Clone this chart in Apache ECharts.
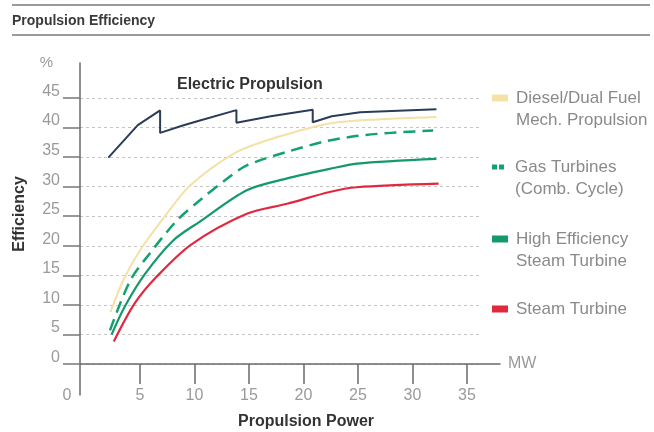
<!DOCTYPE html>
<html>
<head>
<meta charset="utf-8">
<script src="https://cdn.jsdelivr.net/npm/echarts@6/dist/echarts.min.js"></script>
<style>html,body{margin:0;padding:0;background:#fff;}#c{width:654px;height:432px;}</style>
</head>
<body>
<div id="c"></div>
<script>
// ---- data ----
const xTickValues = [5, 10, 15, 20, 25, 30, 35];
const xLabelValues = [0, 5, 10, 15, 20, 25, 30, 35];
const seriesNames = ['Diesel/Dual Fuel Mech. Propulsion', 'Gas Turbines (Comb. Cycle)', 'High Efficiency Steam Turbine', 'Steam Turbine'];
const legendLabels = ['Diesel/Dual Fuel\nMech. Propulsion', 'Gas Turbines\n(Comb. Cycle)', 'High Efficiency\nSteam Turbine', 'Steam Turbine'];

const electricX = [2.1, 4.8, 6.85, 6.85, 9.0, 10.5, 13.85, 13.85, 17.0, 20.85, 20.85, 22.6, 25.2, 32.2];
const electricY = [34.9, 40.4, 42.9, 39.1, 40.4, 41.2, 42.95, 40.8, 41.9, 43.0, 40.9, 41.9, 42.6, 43.1];

const dieselX = [2.3, 3.5, 5.0, 7.45, 9.6, 13.6, 16.6, 20.3, 22.4, 26.0, 32.2];
const dieselY = [8.8, 14.3, 19.2, 25.4, 30.2, 35.6, 37.8, 39.8, 40.7, 41.3, 41.8];

const gasX = [2.25, 4.1, 5.9, 8.4, 10.5, 12.95, 14.8, 18.5, 22.1, 25.0, 28.0, 31.9];
const gasY = [5.7, 14.1, 18.7, 24.3, 27.7, 31.3, 33.6, 35.9, 37.7, 38.6, 39.1, 39.5];

const heSteamX = [2.4, 3.6, 5.45, 8.05, 10.5, 14.8, 18.5, 22.4, 24.9, 32.2];
const heSteamY = [5.0, 9.7, 15.2, 20.9, 24.1, 29.4, 31.4, 33.0, 33.9, 34.7];

const steamX = [2.6, 4.5, 6.5, 9.7, 14.8, 18.5, 22.4, 24.9, 32.4];
const steamY = [3.8, 10.2, 14.7, 20.2, 25.4, 27.1, 29.1, 29.9, 30.5];

// ---- chart ----
const F = 'Liberation Sans, Arial, Helvetica, sans-serif';
const zip = (xs, ys) => xs.map((x, i) => [x, ys[i]]);
const colors = ['#f4e1a6', '#12a36c', '#14996a', '#e2283f'];

const chart = echarts.init(document.getElementById('c'), null, {renderer: 'canvas'});

function mkLegend(i, top, icon, w, h, gap) {
  const lines = legendLabels[i].split('\n');
  const txt = lines.length > 1
    ? ['{a| }'].concat(lines.map(l => '{s|}{a|' + l + '}')).join('\n')
    : '{s|}{a|' + lines[0] + '}';
  return {
    data: [seriesNames[i]], left: 492, top: top, orient: 'vertical', padding: 0,
    icon: icon, itemWidth: w, itemHeight: h, selectedMode: false,
    formatter: () => txt,
    textStyle: {fontFamily: F, fontSize: 17, color: '#8a8a8a', lineHeight: 22,
      rich: {
        a: {fontFamily: F, fontSize: 17, color: '#8a8a8a', lineHeight: 22},
        s: {width: gap, lineHeight: 22}
      }}
  };
}

const option = {
  animation: false,
  backgroundColor: '#fff',
  title: [
    {text: 'Propulsion Efficiency', left: 12, top: 14, padding: 0,
     textStyle: {fontFamily: F, fontSize: 14, fontWeight: 'bold', color: '#3a3a3a'}},
    {text: 'Electric Propulsion', left: 177, top: 77, padding: 0,
     textStyle: {fontFamily: F, fontSize: 16, fontWeight: 'bold', color: '#333'}},
    {text: 'Propulsion Power', left: 306, textAlign: 'center', top: 414, padding: 0,
     textStyle: {fontFamily: F, fontSize: 16, fontWeight: 'bold', color: '#333'}}
  ],
  graphic: [
    {type: 'line', shape: {x1: 12, y1: 5, x2: 650, y2: 5}, style: {stroke: '#9a9a9a', lineWidth: 2}},
    {type: 'line', shape: {x1: 12, y1: 35, x2: 650, y2: 35}, style: {stroke: '#9a9a9a', lineWidth: 2}},
    {type: 'text', x: 20, y: 214, rotation: Math.PI / 2,
     style: {text: 'Efficiency', align: 'center', verticalAlign: 'middle', font: 'bold 16px ' + F, fill: '#333'}}
  ],
  legend: [
    mkLegend(0, 65, 'rect', 16, 7, 3),
    mkLegend(1, 134, 'path://M0,0H5V5H0Z M7,0H12V5H7Z', 12, 5, 6),
    mkLegend(2, 206, 'rect', 16, 7, 3),
    mkLegend(3, 298, 'rect', 16, 7, 3)
  ],
  grid: [
    {left: 80, right: 172, top: 98, bottom: 68},
    {left: 80, right: 154, top: 63, bottom: 37}
  ],
  xAxis: [
    {type: 'value', gridIndex: 0, min: -0.5, max: 36.38, show: false},
    {type: 'value', gridIndex: 1, min: -0.5, max: 38.03,
     axisLine: {show: true, onZero: true, lineStyle: {color: '#6a6a6a', width: 1.5}},
     axisTick: {show: true, customValues: xTickValues, length: 20, inside: false, lineStyle: {color: '#6a6a6a', width: 1.5}},
     axisLabel: {customValues: xLabelValues, margin: -7, fontFamily: F, fontSize: 16, color: '#9a9a9a',
       formatter: v => v === 0 ? '{z|0}' : String(v),
       rich: {z: {fontFamily: F, fontSize: 16, color: '#9a9a9a', padding: [0, 37, 0, 0]}}},
     splitLine: {show: false},
     name: 'MW', nameLocation: 'end', nameGap: 8,
     nameTextStyle: {fontFamily: F, fontSize: 16, color: '#9a9a9a', verticalAlign: 'middle'}}
  ],
  yAxis: [
    {type: 'value', gridIndex: 0, min: 0, max: 45, interval: 5,
     axisLine: {show: false, onZero: false},
     axisTick: {show: true, length: 17, inside: false, lineStyle: {color: '#777', width: 1.5}},
     axisLabel: {margin: 20, fontFamily: F, fontSize: 16, color: '#9a9a9a', verticalAlign: 'bottom', lineHeight: 13},
     splitLine: {show: true, lineStyle: {color: '#c4c4c4', type: [3, 3], width: 1}}},
    {type: 'value', gridIndex: 1, min: -5.24, max: 50.92,
     axisLine: {show: true, onZero: false, lineStyle: {color: '#6a6a6a', width: 1.5}},
     axisTick: {show: false}, axisLabel: {show: false}, splitLine: {show: false},
     name: '%', nameLocation: 'end', nameGap: 0,
     nameTextStyle: {fontFamily: F, fontSize: 15, color: '#9a9a9a', align: 'right', verticalAlign: 'middle', padding: [0, 27, 0, 0]}}
  ],
  series: [
    {type: 'line', name: seriesNames[0], xAxisIndex: 0, yAxisIndex: 0, data: zip(dieselX, dieselY),
     symbol: 'none', smooth: 0.3, lineStyle: {color: colors[0], width: 2}, itemStyle: {color: colors[0]}, z: 2},
    {type: 'line', name: seriesNames[1], xAxisIndex: 0, yAxisIndex: 0, data: zip(gasX, gasY),
     symbol: 'none', smooth: 0.3, lineStyle: {color: colors[1], width: 2.5, type: [12, 7]}, itemStyle: {color: colors[1]}, z: 3},
    {type: 'line', name: seriesNames[2], xAxisIndex: 0, yAxisIndex: 0, data: zip(heSteamX, heSteamY),
     symbol: 'none', smooth: 0.3, lineStyle: {color: colors[2], width: 2.2}, itemStyle: {color: colors[2]}, z: 3},
    {type: 'line', name: seriesNames[3], xAxisIndex: 0, yAxisIndex: 0, data: zip(steamX, steamY),
     symbol: 'none', smooth: 0.3, lineStyle: {color: colors[3], width: 2.2}, itemStyle: {color: colors[3]}, z: 3},
    {type: 'line', name: 'Electric Propulsion', xAxisIndex: 0, yAxisIndex: 0, data: zip(electricX, electricY),
     symbol: 'none', smooth: false, lineStyle: {color: '#2a3c58', width: 2}, itemStyle: {color: '#2a3c58'}, z: 4}
  ]
};
chart.setOption(option);
</script>
</body>
</html>
